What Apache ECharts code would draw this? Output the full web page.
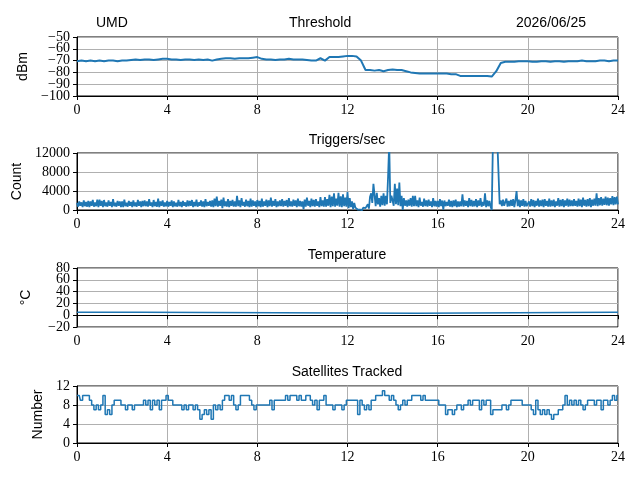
<!DOCTYPE html>
<html>
<head>
<meta charset="utf-8">
<script src="https://cdn.jsdelivr.net/npm/echarts@6/dist/echarts.min.js"></script>
<style>
  html, body { margin: 0; padding: 0; background: #fff; }
  #chart { width: 640px; height: 480px; }
</style>
</head>
<body>
<div id="chart"></div>
<script>
// Hourly x axis, shared by all four panels
const HOUR_TICKS = [0, 4, 8, 12, 16, 20, 24];

// Threshold (dBm), one sample every 0.2 h
const THRESHOLD_STEP = 0.2;
const thresholdValues = [
    -70.5, -70, -70.5, -70, -70.5,
    -70, -70.5, -70, -70, -70.5,
    -70, -70, -69.5, -69, -69.5,
    -69, -69, -69.5, -69, -68.5,
    -68.5, -69, -69, -69.5, -69,
    -69, -69.5, -69, -69.5, -69,
    -70, -69, -68.5, -68, -68,
    -68.5, -68, -68, -68, -67.5,
    -67, -68.5, -69, -69, -69.5,
    -69, -69, -68.5, -69, -69,
    -69, -69.5, -70, -70, -68,
    -70, -67, -67, -67, -66.5,
    -66, -66, -66.5, -70, -78,
    -78, -78.5, -78, -79, -78,
    -77.5, -78, -78, -79, -80,
    -80.5, -81, -81, -81, -81,
    -81, -81, -81, -81.5, -81.5,
    -83, -83, -83, -83, -83,
    -83, -83, -83.5, -79, -72,
    -71, -71, -71, -70.5, -70.5,
    -70.5, -71, -71, -70.5, -70.5,
    -71, -70.5, -70.5, -71, -70.5,
    -70.5, -70.5, -70, -70.5, -70.5,
    -70.5, -70, -70, -70.5, -70,
    -70
];

// Triggers/sec, one sample every 0.05 h (one row per hour)
const TRIGGER_STEP = 0.05;
const triggerValues = [
    1500, 700, 1800, 900, 1600, 600, 2000, 800, 1700, 700, 1900, 600, 1800, 900, 2100, 700, 1600, 800, 2200, 600,
    2200, 900, 1900, 600, 2100, 800, 1600, 700, 2000, 900, 1700, 600, 2300, 800, 1500, 700, 1900, 900, 1800, 600,
    1800, 600, 2200, 800, 1500, 700, 1900, 900, 1700, 600, 2000, 800, 1600, 700, 2100, 900, 1800, 600, 1900, 800,
    2000, 800, 1800, 700, 2300, 900, 1600, 600, 2100, 800, 1700, 700, 2400, 600, 1800, 900, 2000, 700, 1600, 800,
    1900, 700, 1700, 900, 2000, 600, 1800, 800, 1500, 700, 2100, 800, 1700, 600, 1900, 900, 1600, 700, 2000, 800,
    1900, 900, 2100, 600, 1700, 800, 2200, 700, 1600, 900, 2000, 700, 1800, 600, 2300, 800, 1700, 900, 1900, 700,
    2000, 600, 2400, 800, 2800, 700, 1900, 900, 2200, 400, 2600, 800, 1800, 700, 2300, 600, 1900, 900, 2100, 700,
    1800, 700, 3000, 800, 2000, 600, 2500, 900, 1700, 700, 2200, 800, 1900, 600, 2400, 700, 2000, 900, 1800, 600,
    2100, 800, 1900, 600, 2400, 700, 1800, 900, 2200, 600, 2000, 800, 2600, 700, 1900, 900, 2300, 600, 1800, 800,
    2000, 800, 2300, 700, 1900, 900, 2100, 600, 2500, 800, 1800, 700, 2200, 900, 2000, 600, 2400, 800, 1900, 700,
    1800, 200, 2200, 700, 2600, 900, 1900, 600, 2400, 800, 2100, 700, 2300, 900, 1800, 600, 2700, 800, 2000, 700,
    2700, 700, 2300, 900, 3200, 600, 2800, 800, 3500, 700, 2400, 900, 3600, 700, 2900, 600, 3300, 800, 2600, 700,
    3800, 400, 2500, 600, 1800, 200, 1500, 500, 700, 100, 500, 100, 400, 0, 500, 100, 400, 200, 1200, 300,
    2800, 3500, 1500, 5500, 5300, 800, 3600, 1200, 2500, 700, 3000, 1000, 3500, 900, 3000, 1200, 7000, 14000, 1500, 3000,
    2000, 900, 5500, 1200, 4500, 1000, 5800, 800, 3000, 0, 2500, 900, 2000, 700, 2200, 900, 2500, 700, 3000, 800,
    3000, 800, 2000, 600, 2600, 900, 1700, 700, 2400, 800, 2000, 700, 2200, 900, 1800, 600, 2500, 800, 1900, 700,
    1900, 600, 2300, 800, 2000, 100, 2000, 800, 1700, 900, 2200, 700, 1900, 600, 2000, 800, 2200, 600, 1800, 700,
    1800, 800, 3300, 700, 2000, 900, 1900, 600, 2500, 800, 2100, 700, 1900, 800, 2300, 600, 2000, 900, 2500, 700,
    1700, 900, 3500, 600, 2000, 800, 1900, 700, 0, 14000, 14000, 14000, 14000, 14000, 14000, 1200, 2000, 800, 2200, 900,
    900, 2400, 700, 1900, 800, 2100, 900, 2300, 600, 2000, 4000, 800, 2200, 600, 2000, 900, 2300, 700, 1900, 800,
    900, 1800, 700, 2300, 800, 2100, 600, 1900, 900, 2400, 700, 2000, 800, 2200, 600, 2300, 900, 1900, 700, 2400,
    700, 2000, 800, 2200, 600, 1800, 900, 2500, 700, 2100, 800, 2300, 600, 2000, 900, 2400, 700, 2200, 800, 2000,
    800, 2300, 900, 1900, 700, 2400, 800, 2200, 600, 2600, 900, 2100, 700, 2300, 800, 2500, 600, 2200, 900, 2400,
    900, 3500, 800, 2500, 1000, 2700, 900, 2400, 1100, 2800, 1000, 2600, 900, 2500, 1200, 2900, 1000, 2700, 1200, 2800,
    1200
];

// Temperature (°C), read at the hours where it changes
const temperatureHours = [0, 0.65, 0.7, 0.75, 2.8, 2.85, 15.1, 15.15, 23.85, 23.9, 23.95, 24];
const temperatureValues = [5, 5, 3, 5, 5, 3.5, 3.5, 5, 5, 3, 5, 5];

// Satellites tracked, one sample every 0.1 h
const SAT_STEP = 0.1;
const satelliteValues = [
    10, 10, 9, 10, 10, 10, 9, 8, 7, 8,
    7, 8, 10, 6, 7, 6, 8, 9, 9, 9,
    8, 8, 7, 8, 8, 7, 8, 8, 8, 8,
    9, 8, 9, 7, 9, 8, 9, 7, 9, 9,
    10, 9, 9, 8, 8, 8, 8, 7, 8, 7,
    8, 8, 7, 8, 7, 5, 6, 7, 6, 7,
    5, 8, 7, 8, 7, 9, 10, 10, 9, 10,
    8, 7, 8, 10, 10, 10, 10, 9, 8, 7,
    8, 8, 8, 8, 8, 8, 9, 7, 9, 9,
    9, 9, 9, 10, 9, 10, 10, 10, 9, 10,
    9, 9, 10, 10, 9, 8, 9, 7, 9, 9,
    10, 8, 8, 8, 7, 8, 8, 8, 7, 8,
    9, 9, 9, 9, 9, 6, 9, 8, 7, 8,
    7, 9, 9, 10, 10, 10, 11, 10, 10, 9,
    10, 9, 8, 7, 8, 9, 8, 9, 9, 10,
    10, 10, 10, 9, 10, 9, 9, 9, 9, 9,
    9, 8, 8, 8, 6, 7, 7, 6, 7, 8,
    8, 7, 8, 8, 9, 8, 9, 9, 9, 7,
    9, 8, 9, 9, 6, 7, 7, 7, 7, 8,
    8, 7, 8, 9, 9, 9, 9, 9, 8, 8,
    8, 8, 7, 6, 9, 7, 6, 7, 6, 7,
    6, 5, 6, 6, 7, 7, 8, 10, 8, 9,
    8, 9, 8, 9, 8, 7, 8, 9, 9, 9,
    8, 9, 9, 7, 9, 9, 8, 9, 10, 9,
    10
];

// Panel setup
const PANELS = [
    { title: 'Threshold', yName: 'dBm', min: -100, max: -50, interval: 10, top: 37, height: 59, nameGap: 41 },
    { title: 'Triggers/sec', yName: 'Count', min: 0, max: 12000, interval: 4000, top: 153, height: 57, nameGap: 45 },
    { title: 'Temperature', yName: '\u00b0C', min: -20, max: 80, interval: 20, top: 268, height: 59, nameGap: 44 },
    { title: 'Satellites Tracked', yName: 'Number', min: 0, max: 12, interval: 4, top: 386, height: 57, nameGap: 25 }
];

const BLUE = '#1f77b4';
const SERIF = 'Liberation Serif';
const SANS = 'Liberation Sans';

function stepped(values, step) {
    return values.map((v, i) => [+(i * step).toFixed(2), v]);
}

function paired(xs, ys) {
    return xs.map((x, i) => [x, ys[i]]);
}

function minusSign(v) {
    return String(v).replace('-', '\u2212');
}

function renderChart() {
    const chart = echarts.init(document.getElementById('chart'));

    const grids = PANELS.map(p => ({
        left: 77, right: 22, top: p.top, height: p.height,
        show: true, borderColor: '#000', borderWidth: 1, backgroundColor: 'transparent'
    }));

    const xAxes = PANELS.map((p, i) => ({
        type: 'value', gridIndex: i, min: HOUR_TICKS[0], max: HOUR_TICKS[HOUR_TICKS.length - 1], interval: 4,
        axisLine: { lineStyle: { color: '#000', width: 1 } },
        axisTick: { show: true, inside: false, length: 4, lineStyle: { color: '#000' } },
        axisLabel: { color: '#000', fontFamily: SERIF, fontSize: 14, margin: 7, showMinLabel: true, showMaxLabel: true },
        splitLine: { show: true, lineStyle: { color: '#b0b0b0', width: 1 } }
    }));

    // The y labels are packed tighter than ECharts likes, so the end labels and the
    // inner labels go on two overlaid axes and none of them get dropped.
    const yLabelStyle = { color: '#000', fontFamily: SERIF, fontSize: 14, margin: 7, showMinLabel: true, showMaxLabel: true };
    const yMain = PANELS.map((p, i) => ({
        type: 'value', gridIndex: i, min: p.min, max: p.max, interval: p.interval,
        name: p.yName, nameLocation: 'middle', nameGap: p.nameGap,
        nameTextStyle: { color: '#000', fontFamily: SANS, fontSize: 14 },
        axisLine: { show: true, lineStyle: { color: '#000', width: 1 } },
        axisTick: { show: true, inside: false, length: 4, lineStyle: { color: '#000' } },
        axisLabel: Object.assign({}, yLabelStyle, {
            formatter: v => (v === p.min || v === p.max) ? minusSign(v) : ''
        }),
        splitLine: { show: true, lineStyle: { color: '#b0b0b0', width: 1 } }
    }));
    const yInner = PANELS.map((p, i) => ({
        type: 'value', gridIndex: i, min: p.min, max: p.max, interval: p.interval,
        position: 'left', offset: 0,
        axisLine: { show: false }, axisTick: { show: false }, splitLine: { show: false },
        axisLabel: Object.assign({}, yLabelStyle, {
            formatter: v => (v === p.min || v === p.max) ? '' : minusSign(v)
        })
    }));

    const titleStyle = { color: '#000', fontFamily: SANS, fontSize: 14, fontWeight: 'normal' };
    const titles = [
        { text: 'UMD', left: 96, top: 16, padding: 0, textStyle: titleStyle },
        { text: 'Threshold', left: 289, top: 16, padding: 0, textStyle: titleStyle },
        { text: '2026/06/25', left: 516, top: 16, padding: 0, textStyle: titleStyle },
        { text: 'Triggers/sec', left: 347, textAlign: 'center', top: 133, padding: 0, textStyle: titleStyle },
        { text: 'Temperature', left: 347, textAlign: 'center', top: 248, padding: 0, textStyle: titleStyle },
        { text: 'Satellites Tracked', left: 347, textAlign: 'center', top: 365, padding: 0, textStyle: titleStyle }
    ];

    const lineSeries = (i, data, width, step) => ({
        type: 'line', xAxisIndex: i, yAxisIndex: i, data: data, step: step,
        showSymbol: false, clip: true, sampling: 'none',
        lineStyle: { color: BLUE, width: width }
    });

    const option = {
        animation: false,
        title: titles,
        grid: grids,
        xAxis: xAxes,
        yAxis: yMain.concat(yInner),
        series: [
            lineSeries(0, stepped(thresholdValues, THRESHOLD_STEP), 2, false),
            lineSeries(1, stepped(triggerValues, TRIGGER_STEP), 1.8, false),
            lineSeries(2, paired(temperatureHours, temperatureValues), 1.5, false),
            lineSeries(3, stepped(satelliteValues, SAT_STEP), 1.5, 'middle')
        ]
    };
    chart.setOption(option);
}

renderChart();
</script>
</body>
</html>
